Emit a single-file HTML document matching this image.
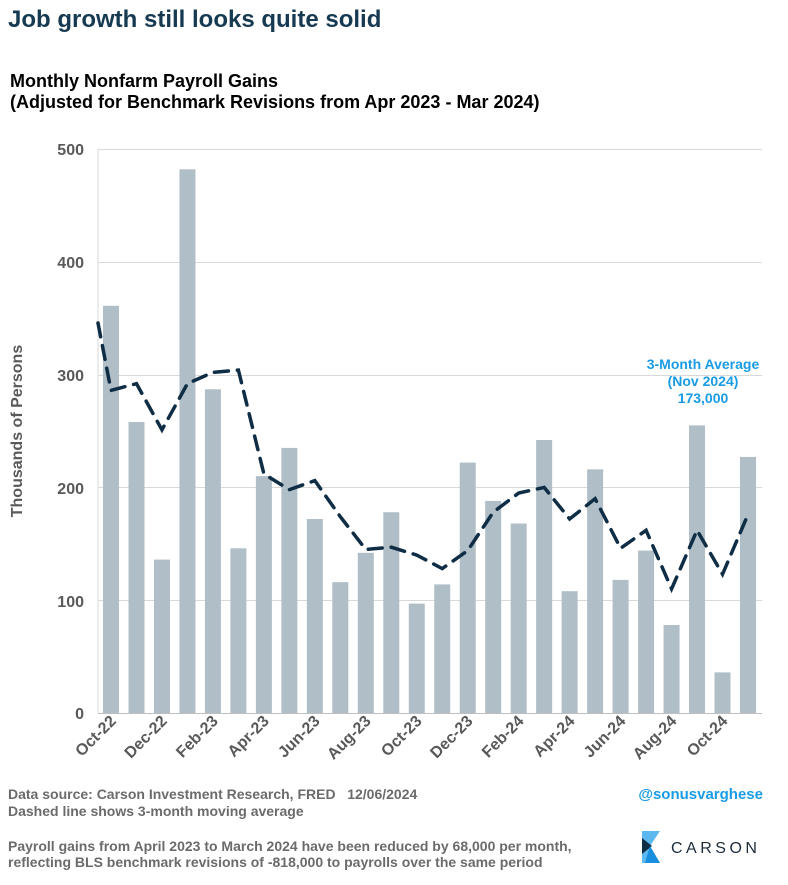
<!DOCTYPE html>
<html><head><meta charset="utf-8"><style>
body{margin:0;background:#fff;width:788px;height:880px;overflow:hidden;font-family:"Liberation Sans",Arial,sans-serif}
</style></head><body>
<svg width="788" height="880" xmlns="http://www.w3.org/2000/svg" font-family="Liberation Sans, Arial, sans-serif">
<text x="8" y="27" font-size="24" font-weight="bold" fill="#163a52">Job growth still looks quite solid</text>
<text x="10" y="87" font-size="18" font-weight="bold" fill="#000">Monthly Nonfarm Payroll Gains</text>
<text x="10" y="108" font-size="18" font-weight="bold" fill="#000">(Adjusted for Benchmark Revisions from Apr 2023 - Mar 2024)</text>
<g stroke="#d9d9d9" stroke-width="1">
<line x1="98" y1="149.5" x2="762" y2="149.5"/><line x1="98" y1="262.5" x2="762" y2="262.5"/>
<line x1="98" y1="375.5" x2="762" y2="375.5"/><line x1="98" y1="487.5" x2="762" y2="487.5"/>
<line x1="98" y1="600.5" x2="762" y2="600.5"/><line x1="98" y1="149" x2="98" y2="713"/>
</g>
<g font-size="16" font-weight="bold" fill="#595959" text-anchor="end">
<text x="84" y="155">500</text><text x="84" y="268">400</text><text x="84" y="381">300</text>
<text x="84" y="494">200</text><text x="84" y="607">100</text><text x="84" y="719">0</text>
</g>
<text transform="translate(22,431) rotate(-90)" font-size="16" font-weight="bold" fill="#595959" text-anchor="middle">Thousands of Persons</text>
<g fill="#b0bec7" id="bars"></g>
<line x1="98" y1="713.5" x2="762" y2="713.5" stroke="#bfbfbf"/>
<polyline id="avg" fill="none" stroke="#0f2d45" stroke-width="3.5" stroke-dasharray="14,9" stroke-linecap="round"/>
<g id="xl" font-size="16" font-weight="bold" fill="#595959" text-anchor="end"></g>
<g font-size="14" font-weight="bold" fill="#1a9be6" text-anchor="middle">
<text x="703" y="369">3-Month Average</text>
<text x="703" y="386">(Nov 2024)</text>
<text x="703" y="403">173,000</text>
</g>
<g font-size="14" font-weight="bold" fill="#6b6b6b">
<text x="8" y="799" xml:space="preserve">Data source: Carson Investment Research, FRED   12/06/2024</text>
<text x="8" y="816">Dashed line shows 3-month moving average</text>
<text x="8" y="851">Payroll gains from April 2023 to March 2024 have been reduced by 68,000 per month,</text>
<text x="8" y="867">reflecting BLS benchmark revisions of -818,000 to payrolls over the same period</text>
</g>
<text x="763" y="799" font-size="15" font-weight="bold" fill="#1a9be6" text-anchor="end">@sonusvarghese</text>
<polygon points="642,831 660,831 650,846 660,863 642,863" fill="#5db8f0"/>
<polygon points="642,838 652,846 642,854" fill="#0f2d45"/>
<polygon points="650,846 660,863 645,863" fill="#1a8fe0"/>
<text x="671" y="853" font-size="16" fill="#1d2b3a" letter-spacing="3.5">CARSON</text>
</svg>
<script>
var v=[361,258,136,482,287,146,210,235,172,116,142,178,97,114,222,188,168,242,108,216,118,144,78,255,36,227];
var a=[286,292,251,292,302,304,212,198,206,174,145,147,140,128,144,178,195,200,172,190,146,162,110,162,123,176];
var ns="http://www.w3.org/2000/svg",b=document.getElementById('bars'),pts=["98,323"];
var lab=["Oct-22","Dec-22","Feb-23","Apr-23","Jun-23","Aug-23","Oct-23","Dec-23","Feb-24","Apr-24","Jun-24","Aug-24","Oct-24"];
var xl=document.getElementById('xl');
for(var i=0;i<26;i++){var cx=111+i*25.48;var r=document.createElementNS(ns,'rect');
r.setAttribute('x',cx-8);r.setAttribute('width',16);r.setAttribute('y',713-v[i]*1.128);r.setAttribute('height',v[i]*1.128);b.appendChild(r);
pts.push(cx+","+(713-a[i]*1.128));
if(i%2==0){var t=document.createElementNS(ns,'text');t.setAttribute('transform','translate('+(cx+6)+',722) rotate(-45)');t.textContent=lab[i/2];xl.appendChild(t);}}
document.getElementById('avg').setAttribute('points',pts.join(' '));
</script>
</body></html>
